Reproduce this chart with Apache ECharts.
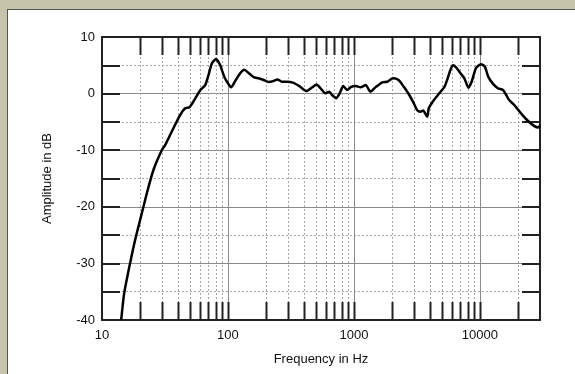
<!DOCTYPE html>
<html>
<head>
<meta charset="utf-8">
<script src="https://cdn.jsdelivr.net/npm/echarts@6/dist/echarts.min.js"></script>
<style>
  html, body { margin: 0; padding: 0; background: #c6c4ab; }
  #frame { position: absolute; left: 7px; top: 9px; width: 568px; height: 365px; background: #fff;
           border-left: 1px solid #555; border-top: 1px solid #555; }
  #chart { position: absolute; left: 0; top: 0; width: 575px; height: 374px; }
</style>
</head>
<body>
<div id="frame"></div>
<div id="chart"></div>
<script>
// frequency response
const freqs = [
  14.2, 15.0, 16.7, 18.3, 20.1, 22.7, 25.6, 29.8, 31.7, 35.8,
  41.7, 45.7, 49.5, 53.2, 60.2, 66, 70.1, 74.6, 80.3, 86.7,
  93.3, 100, 106, 114, 125, 135, 145, 160, 175, 192,
  210, 229, 247, 268, 293, 332, 375, 420, 465, 505,
  543, 593, 640, 670, 725, 771, 821, 884, 952, 1030,
  1130, 1240, 1350, 1480, 1680, 1840, 2040, 2260, 2490, 2750,
  3000, 3170, 3370, 3540, 3820, 3930, 4330, 4760, 5230, 5550,
  5840, 6100, 6470, 7010, 7530, 8100, 8600, 9300, 10200, 10950,
  11640, 12630, 13870, 15240, 16200, 17000, 18700, 21200, 24000, 26900,
  29000, 30000
];
const amplitude = [
  -40, -35.3, -30, -25.9, -22.3, -17.6, -13.5, -10, -9.1, -6.7,
  -3.8, -2.6, -2.4, -1.4, 0.6, 1.5, 3.3, 5.35, 6.1, 5.05,
  3.0, 1.8, 1.1, 2.2, 3.6, 4.2, 3.7, 2.9, 2.7, 2.4,
  2.05, 2.2, 2.5, 2.1, 2.1, 1.9, 1.2, 0.45, 1.1, 1.6,
  0.94, 0.05, 0.34, -0.25, -0.8, 0.05, 1.35, 0.64, 1.2, 1.35,
  1.1, 1.5, 0.34, 1.1, 2.0, 2.1, 2.7, 2.4, 1.2, -0.25,
  -1.8, -2.9, -3.2, -3.0, -4.1, -2.6, -1.1, 0.05, 1.2, 2.7,
  4.2, 5.0, 4.65, 3.6, 2.7, 1.05, 2.1, 4.5, 5.2, 4.75,
  3.0, 1.8, 0.94, 0.64, -0.25, -1.1, -2.0, -3.5, -4.8, -5.7,
  -6.0, -5.6
];

// x axis labels and grid positions
const xLabels = [10, 100, 1000, 10000];
const xDecadeLines = [100, 1000, 10000];
const xMinorLines = [
  20, 30, 40, 50, 60, 70, 80, 90,
  200, 300, 400, 500, 600, 700, 800, 900,
  2000, 3000, 4000, 5000, 6000, 7000, 8000, 9000,
  20000
];
const xMin = 10, xMax = 30000;
const yMin = -40, yMax = 10, yStep = 10;

const chart = echarts.init(document.getElementById('chart'));

const font = 'Liberation Sans, Arial, sans-serif';
const dark = '#222';

const gridLines = xDecadeLines.map(v => [v, 1]).concat(xMinorLines.map(v => [v, 0]));

chart.setOption({
  animation: false,
  backgroundColor: 'transparent',
  grid: { left: 102, right: 35, top: 37, bottom: 54 },
  xAxis: [
    {
      type: 'log',
      logBase: 10,
      min: xMin,
      max: xMax,
      position: 'bottom',
      name: 'Frequency in Hz',
      nameLocation: 'middle',
      nameGap: 33,
      nameTextStyle: { fontFamily: font, fontSize: 13, color: '#111' },
      axisLine: { show: true, onZero: false, lineStyle: { color: dark, width: 2 } },
      axisTick: { show: false },
      splitLine: { show: false },
      axisLabel: {
        fontFamily: font, fontSize: 13, color: '#111', margin: 9,
        formatter: (v) => xLabels.includes(Math.round(v)) ? String(Math.round(v)) : ''
      }
    },
    {
      type: 'log',
      logBase: 10,
      min: xMin,
      max: xMax,
      position: 'top',
      axisLine: { show: true, onZero: false, lineStyle: { color: dark, width: 2 } },
      axisTick: { show: false },
      axisLabel: { show: false },
      splitLine: { show: false }
    }
  ],
  yAxis: [
    {
      type: 'value',
      min: yMin,
      max: yMax,
      interval: yStep,
      position: 'left',
      name: 'Amplitude in dB',
      nameLocation: 'middle',
      nameGap: 48,
      nameTextStyle: { fontFamily: font, fontSize: 13, color: '#111' },
      axisLine: { show: true, onZero: false, lineStyle: { color: dark, width: 2 } },
      axisTick: { show: true, inside: true, length: 18, lineStyle: { color: dark, width: 2 } },
      minorTick: { show: true, splitNumber: 2, length: 18, lineStyle: { color: dark, width: 2 } },
      splitLine: { show: true, lineStyle: { color: '#8a8a8a', width: 1 } },
      minorSplitLine: { show: true, lineStyle: { color: '#a8a8a8', width: 1, type: [2, 2] } },
      axisLabel: { fontFamily: font, fontSize: 13, color: '#111', margin: 7 }
    },
    {
      type: 'value',
      min: yMin,
      max: yMax,
      interval: yStep,
      position: 'right',
      axisLine: { show: true, onZero: false, lineStyle: { color: dark, width: 2 } },
      axisTick: { show: true, inside: true, length: 18, lineStyle: { color: dark, width: 2 } },
      minorTick: { show: true, splitNumber: 2, length: 18, lineStyle: { color: dark, width: 2 } },
      splitLine: { show: false },
      axisLabel: { show: false }
    }
  ],
  series: [
    {
      // vertical grid lines + inward ticks on the top and bottom edges
      type: 'custom',
      silent: true,
      z: 1,
      data: gridLines,
      renderItem: (params, api) => {
        const f = api.value(0);
        const top = api.coord([f, yMax]);
        const bot = api.coord([f, yMin]);
        const x = Math.round(top[0]) + 0.5;
        const decade = api.value(1) === 1;
        return {
          type: 'group',
          children: [
            {
              type: 'line',
              shape: { x1: x, y1: top[1], x2: x, y2: bot[1] },
              style: decade
                ? { stroke: '#8a8a8a', lineWidth: 1 }
                : { stroke: '#a8a8a8', lineWidth: 1, lineDash: [2, 2] }
            },
            {
              type: 'line',
              shape: { x1: x, y1: top[1], x2: x, y2: top[1] + 18 },
              style: { stroke: dark, lineWidth: 2 }
            },
            {
              type: 'line',
              shape: { x1: x, y1: bot[1], x2: x, y2: bot[1] - 18 },
              style: { stroke: dark, lineWidth: 2 }
            }
          ]
        };
      }
    },
    {
      type: 'line',
      z: 5,
      data: freqs.map((f, i) => [f, amplitude[i]]),
      showSymbol: false,
      smooth: 0.2,
      clip: true,
      lineStyle: { color: '#000', width: 2.5 }
    }
  ]
});
</script>
</body>
</html>
